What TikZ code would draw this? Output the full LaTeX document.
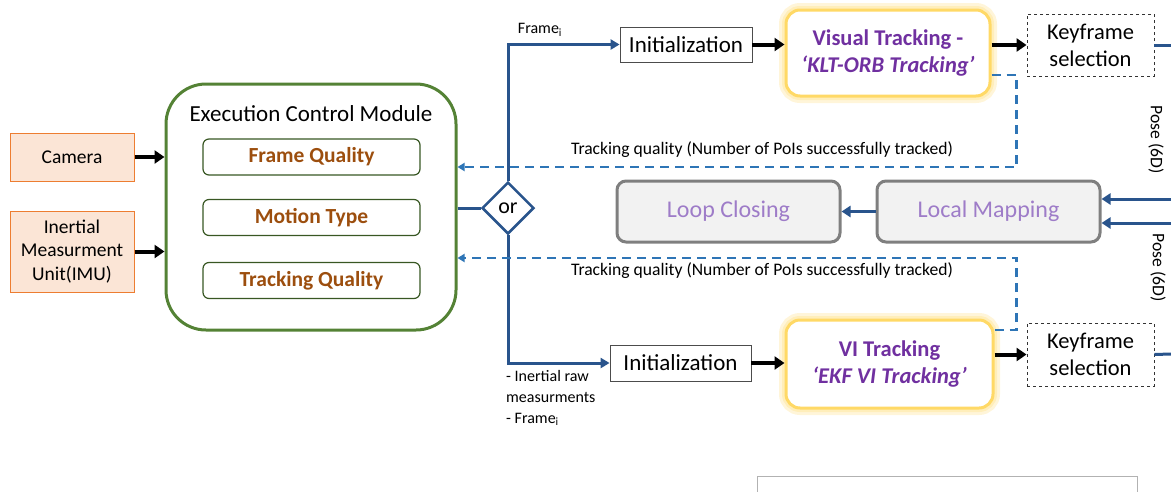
\documentclass[tikz,border=0pt]{standalone}
\usepackage{fontspec}
\setmainfont{Carlito}
\usetikzlibrary{shapes.geometric,arrows.meta,calc}
\definecolor{srcfill}{RGB}{251,229,214}
\definecolor{srcdraw}{RGB}{237,125,49}
\definecolor{ecmgreen}{RGB}{84,130,53}
\definecolor{innergreen}{RGB}{56,87,35}
\definecolor{brownt}{RGB}{156,78,14}
\definecolor{dblue}{RGB}{41,84,140}
\definecolor{fblue}{RGB}{46,117,182}
\definecolor{purp}{RGB}{112,48,160}
\definecolor{lpurp}{RGB}{158,124,200}
\definecolor{glowy}{RGB}{255,217,102}
\definecolor{lgray}{RGB}{242,242,242}
\definecolor{mgray}{RGB}{127,127,127}
\newcommand{\fs}[1]{\fontsize{#1pt}{1.2\dimexpr#1pt\relax}\selectfont}
\tikzset{
  src/.style={draw=srcdraw, fill=srcfill, line width=1pt, align=center, inner sep=0pt, font=\fs{19.5}},
  ecmbox/.style={draw=ecmgreen, line width=3pt, rounded corners=40pt},
  inner/.style={draw=innergreen, line width=1.2pt, rounded corners=6pt, minimum width=217pt, minimum height=36pt, inner sep=0pt, text=brownt, font=\bfseries\fs{21.5}},
  initbox/.style={draw=black!70, line width=0.8pt, inner sep=0pt, font=\fs{23}},
  glowbox/.style={draw=glowy, line width=3pt, rounded corners=14pt, fill=white, inner sep=0pt, align=center, text=purp, font=\bfseries\fs{22.5},
     preaction={draw=glowy!25, line width=14pt}, preaction={draw=glowy!45, line width=8pt}},
  kfbox/.style={draw=black!80, dashed, line width=0.9pt, inner sep=0pt, align=center, font=\fs{22.5}},
  graybox/.style={draw=mgray, line width=3pt, rounded corners=9pt, fill=lgray, inner sep=0pt, text=lpurp, font=\fs{24}, minimum width=223pt, minimum height=61pt},
  blk/.style={line width=4pt, -{Triangle[length=10pt,width=13pt]}},
  bl/.style={draw=dblue, line width=3pt},
  blarr/.style={draw=dblue, line width=3pt, -{Triangle[length=9pt,width=11pt]}},
  blthin/.style={draw=dblue, line width=3pt, -{Triangle[length=9pt,width=10pt]}},
  fb/.style={draw=fblue, line width=2.2pt, dash pattern=on 9pt off 6pt, -{Triangle[length=7pt,width=8pt]}},
  lbl/.style={font=\fs{17.6}, inner sep=0pt},
  small/.style={font=\fs{16}, inner sep=0pt, align=left},
  smallspaced/.style={font=\fontsize{16pt}{21pt}\selectfont, inner sep=0pt, align=left}
}
\begin{document}
\begin{tikzpicture}[x=1pt,y=-1pt]
\useasboundingbox (0,0) rectangle (1171,491);
% sources
\node[src, minimum width=124pt, minimum height=48pt] (cam) at (72,157) {Camera};
\node[src, minimum width=124pt, minimum height=81pt] (imu) at (72,251.5) {Inertial\\Measurment\\Unit(IMU)};
% execution control module
\node[ecmbox, minimum width=290pt, minimum height=246pt] (ecm) at (311,207) {};
\node[font=\fs{23}, inner sep=0pt] (ecmt) at (311,114) {Execution Control Module};
\node[inner] (fq) at (311.5,157) {Frame Quality};
\node[inner] (mt) at (311.5,217.5) {Motion Type};
\node[inner] (tq) at (311.5,280.5) {Tracking Quality};
\draw[blk] (cam.east) -- (ecm.west |- cam.east);
\draw[blk] (imu.east) -- (ecm.west |- imu.east);
% or diamond
\node[diamond, draw=dblue, line width=2.5pt, fill=white, minimum width=52pt, minimum height=52pt, inner sep=0pt, font=\fs{22}] (or) at (508,208) {or};
\draw[bl] (ecm.east |- or.west) -- (or.west);
% top branch
\node[initbox, minimum width=132pt, minimum height=35pt] (init1) at (686,44.5) {Initialization};
\node[glowbox, minimum width=204pt, minimum height=86pt] (vt) at (888,53) {Visual Tracking -\\\itshape `KLT-ORB Tracking'};
\node[kfbox, minimum width=127pt, minimum height=62pt] (kf1) at (1090.5,45) {Keyframe\\selection};
\draw[blthin] (or.north) |- (init1.west);
\node[small] (fi1) at (540,30) {Frame\textsubscript{i}};
\draw[blk] (init1.east) -- (vt.west |- init1.east);
\draw[blk] (vt.east |- kf1.west) -- (kf1.west);
\coordinate (r1) at (1171,45);
\draw[bl] (kf1.east) -- (r1);
% bottom branch
\node[initbox, minimum width=141pt, minimum height=36pt] (init2) at (680.5,363) {Initialization};
\node[glowbox, minimum width=207pt, minimum height=88pt] (vi) at (889.5,364) {VI Tracking\\\itshape `EKF VI Tracking'};
\node[kfbox, minimum width=127pt, minimum height=63pt] (kf2) at (1090.5,354.5) {Keyframe\\selection};
\draw[blthin] (or.south) |- (init2.west);
\node[smallspaced, anchor=north west] (inl) at (506,370) {- Inertial raw\\measurments\\- Frame\textsubscript{i}};
\draw[blk] (init2.east) -- (vi.west |- init2.east);
\draw[blk] (vi.east |- kf2.west) -- (kf2.west);
\coordinate (r2) at (1171,354);
\draw[bl] (kf2.east) -- (r2);
% mapping
\node[graybox] (lc) at (728.5,211.5) {Loop Closing};
\node[graybox] (lm) at (988.5,211.5) {Local Mapping};
\draw[blarr] (lm.west) -- (lc.east);
\coordinate (r3) at (1171,199);
\coordinate (r4) at (1171,223);
\draw[blarr] (r3) -- (lm.east |- r3);
\draw[blarr] (r4) -- (lm.east |- r4);
\node[font=\fs{17.6}, rotate=-90, inner sep=0pt] (p1) at (1156,140) {Pose (6D)};
\node[font=\fs{17.6}, rotate=-90, inner sep=0pt] (p2) at (1158,268) {Pose (6D)};
% feedback
\draw[fb] ($(vt.east)+(0,22)$) -- ++(25,0) |- ($(ecm.east)+(0,-40)$);
\node[lbl] (tql1) at (762,150) {Tracking quality (Number of PoIs successfully tracked)};
\draw[fb] ($(vi.east)+(0,-34)$) -- ++(22,0) |- ($(ecm.east)+(0,51)$);
\node[lbl] (tql2) at (762,271) {Tracking quality (Number of PoIs successfully tracked)};
% partial box at bottom
\draw[black!30, line width=0.8pt] (757,492) |- (1137,476) -- (1137,492);
\end{tikzpicture}
\end{document}
